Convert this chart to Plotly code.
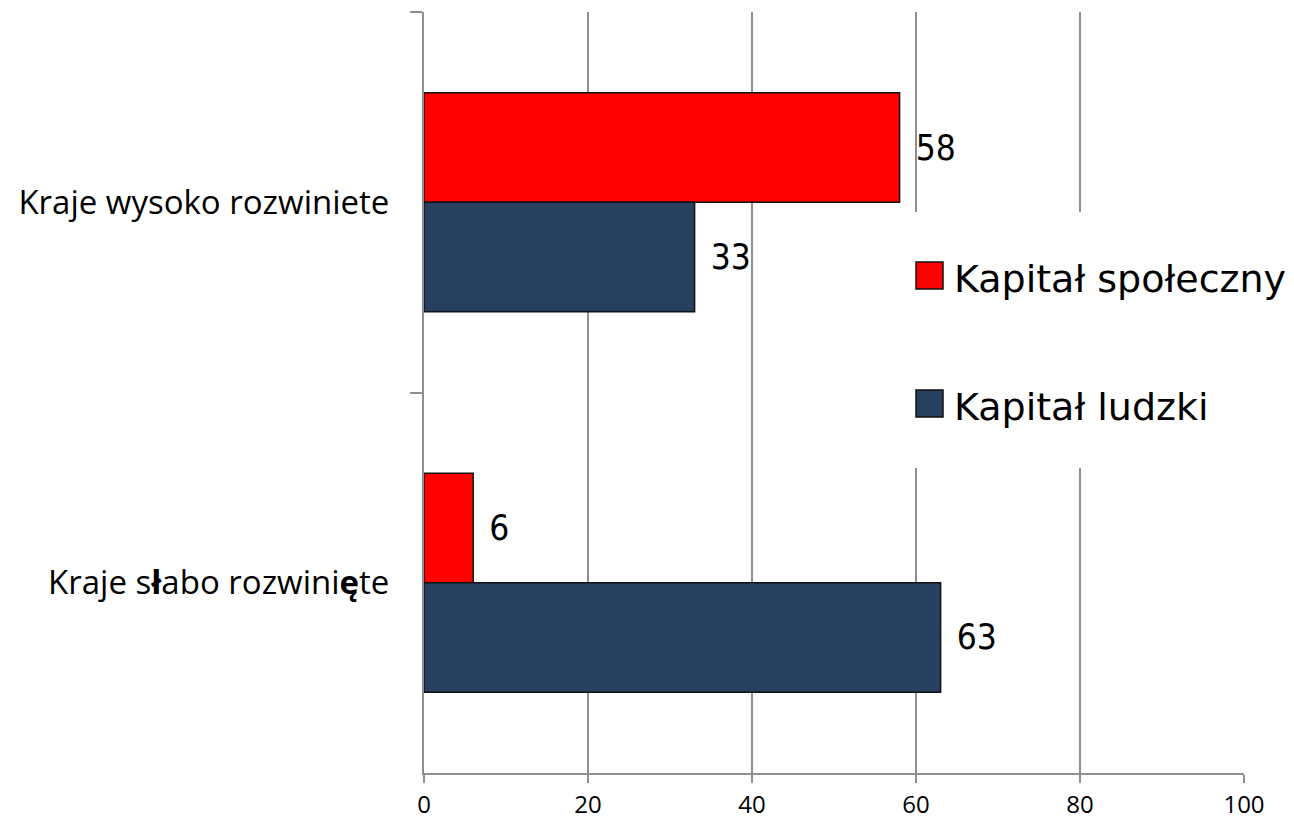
import plotly.graph_objects as go

# data
categories = ["Kraje wysoko rozwiniete", "Kraje s<b>ł</b>abo rozwini<b>ę</b>te"]
kapital_spoleczny = [58, 6]
kapital_ludzki = [33, 63]
series_names = ["Kapitał społeczny", "Kapitał ludzki"]
series_colors = ["#FF0000", "#284060"]
x_ticks = [0, 20, 40, 60, 80, 100]

GRID = "#8f8f8f"
OFF = 8  # page body margin in the browser
W, H = 1294 - OFF, 820 - OFF
L, R, T, B = 424 - OFF, 50, 12 - OFF, 47
LABEL_FONT = "Liberation Sans Narrow, DejaVu Sans Condensed, Liberation Sans"

fig = go.Figure()
for name, vals, color in zip(series_names, [kapital_spoleczny, kapital_ludzki], series_colors):
    fig.add_trace(go.Bar(
        y=categories, x=vals, name=name, orientation="h",
        marker=dict(color=color, line=dict(color="#111111", width=1.5)),
        text=vals, texttemplate="\u2005\u2006%{x}", textposition="outside",
        constraintext="none", cliponaxis=False,
        textfont=dict(family=LABEL_FONT, size=35, color="black"),
        showlegend=False,
    ))

# hand-made legend (large squares), white box hides the grid behind it
# positions given in window pixels
def px_x(p):
    return (p - OFF - L) / (W - L - R)

def px_y(p):
    return (H - B - (p - OFF)) / (H - T - B)

shapes = [dict(type="rect", xref="paper", yref="paper", layer="above",
               x0=px_x(905), x1=px_x(1294), y0=px_y(468), y1=px_y(212),
               fillcolor="white", line=dict(width=0))]
annotations = []
for i, (name, color) in enumerate(zip(series_names, series_colors)):
    top = 262 + i * 128
    shapes.append(dict(type="rect", xref="paper", yref="paper", layer="above",
                       x0=px_x(916), x1=px_x(943), y0=px_y(top + 27), y1=px_y(top),
                       fillcolor=color, line=dict(color="#111111", width=1.5)))
    annotations.append(dict(xref="paper", yref="paper", x=px_x(952), y=px_y(top + 17),
                            xanchor="left", yanchor="middle", showarrow=False, text=name,
                            font=dict(family="DejaVu Sans", size=38, color="black")))

fig.update_layout(
    template="none",
    width=W, height=H,
    margin=dict(l=L, r=R, t=T, b=B, pad=0),
    paper_bgcolor="white", plot_bgcolor="white",
    barmode="group", bargap=0.425, bargroupgap=0,
    shapes=shapes, annotations=annotations,
    xaxis=dict(range=[0, 100], tickvals=x_ticks, showgrid=True, gridcolor=GRID, gridwidth=2,
               zeroline=False, showline=True, linecolor=GRID, linewidth=2,
               ticks="outside", ticklen=8, tickwidth=2, tickcolor=GRID,
               ticklabelstandoff=1, automargin=False,
               tickfont=dict(family="Open Sans", size=24, color="black")),
    yaxis=dict(autorange="reversed", showgrid=False, zeroline=False,
               showline=True, linecolor=GRID, linewidth=2,
               ticks="outside", tickson="boundaries", ticklen=12, tickwidth=2, tickcolor=GRID,
               ticklabelstandoff=26, automargin=False,
               tickfont=dict(family="Open Sans", size=33, color="black")),
)

fig.write_html("out.html")
